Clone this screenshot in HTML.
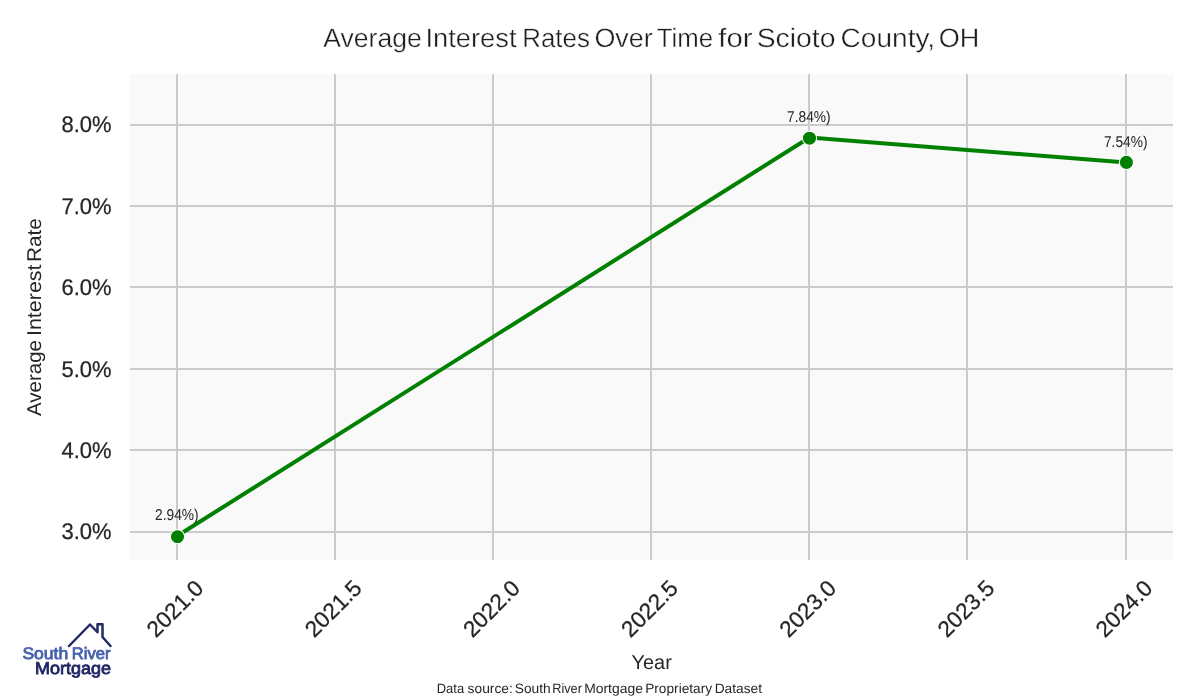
<!DOCTYPE html>
<html><head><meta charset="utf-8"><title>Average Interest Rates Over Time for Scioto County, OH</title>
<style>
html,body{margin:0;padding:0;background:#fff;width:1200px;height:700px;overflow:hidden}
svg{display:block}
text{text-rendering:geometricPrecision;font-family:"Liberation Sans",Arial,sans-serif;fill:#262626}
.title{font-size:26.5px;fill:#1e1e1e;stroke:#fff;stroke-width:0.35px}
.tick{font-size:22.7px;stroke:#262626;stroke-width:0.25px}
.xtick{font-size:22.6px;stroke:#262626;stroke-width:0.25px}
.ann{font-size:15.7px}
.lab{font-size:20px}
.src{font-size:13.6px}
.lg1{font-size:16.6px;fill:#4660ad;stroke:#4660ad;stroke-width:0.8px}
.lg2{font-size:17.2px;fill:#1f2562;stroke:#1f2562;stroke-width:0.8px}
</style></head>
<body>
<svg width="1200" height="700" viewBox="0 0 1200 700">
<rect x="130" y="74" width="1043" height="486" fill="#f9f9f9"/>
<rect x="130" y="124" width="1043" height="2" fill="#cbcbcb"/>
<rect x="130" y="205" width="1043" height="2" fill="#cbcbcb"/>
<rect x="130" y="286" width="1043" height="2" fill="#cbcbcb"/>
<rect x="130" y="368" width="1043" height="2" fill="#cbcbcb"/>
<rect x="130" y="449" width="1043" height="2" fill="#cbcbcb"/>
<rect x="130" y="531" width="1043" height="2" fill="#cbcbcb"/>
<rect x="176" y="74" width="2" height="486" fill="#cbcbcb"/>
<rect x="334" y="74" width="2" height="486" fill="#cbcbcb"/>
<rect x="492" y="74" width="2" height="486" fill="#cbcbcb"/>
<rect x="650" y="74" width="2" height="486" fill="#cbcbcb"/>
<rect x="808" y="74" width="2" height="486" fill="#cbcbcb"/>
<rect x="966" y="74" width="2" height="486" fill="#cbcbcb"/>
<rect x="1125" y="74" width="2" height="486" fill="#cbcbcb"/>
<polyline points="177.50,535.80 809.50,137.50 1126.40,162.40" fill="none" stroke="#008000" stroke-width="4" stroke-linejoin="round" stroke-linecap="butt"/>
<circle cx="177.50" cy="536.70" r="7.1" fill="#008000" stroke="#ffffff" stroke-width="1.1"/>
<circle cx="809.50" cy="138.20" r="7.1" fill="#008000" stroke="#ffffff" stroke-width="1.1"/>
<circle cx="1126.40" cy="162.40" r="7.1" fill="#008000" stroke="#ffffff" stroke-width="1.1"/>
<text transform="translate(176.80,520.10) scale(0.876,1)" class="ann" text-anchor="middle">2.94%)</text>
<text transform="translate(808.80,121.80) scale(0.876,1)" class="ann" text-anchor="middle">7.84%)</text>
<text transform="translate(1125.70,147.10) scale(0.876,1)" class="ann" text-anchor="middle">7.54%)</text>
<text transform="translate(111.6,539.40) scale(0.969,1)" class="tick" text-anchor="end">3.0%</text>
<text transform="translate(111.6,458.00) scale(0.969,1)" class="tick" text-anchor="end">4.0%</text>
<text transform="translate(111.6,376.60) scale(0.969,1)" class="tick" text-anchor="end">5.0%</text>
<text transform="translate(111.6,295.20) scale(0.969,1)" class="tick" text-anchor="end">6.0%</text>
<text transform="translate(111.6,213.80) scale(0.969,1)" class="tick" text-anchor="end">7.0%</text>
<text transform="translate(111.6,132.40) scale(0.969,1)" class="tick" text-anchor="end">8.0%</text>
<text transform="translate(174.60,608.10) rotate(-45)" x="0" y="8.3" class="xtick" text-anchor="middle">2021.0</text>
<text transform="translate(332.77,608.10) rotate(-45)" x="0" y="8.3" class="xtick" text-anchor="middle">2021.5</text>
<text transform="translate(490.95,608.10) rotate(-45)" x="0" y="8.3" class="xtick" text-anchor="middle">2022.0</text>
<text transform="translate(649.12,608.10) rotate(-45)" x="0" y="8.3" class="xtick" text-anchor="middle">2022.5</text>
<text transform="translate(807.30,608.10) rotate(-45)" x="0" y="8.3" class="xtick" text-anchor="middle">2023.0</text>
<text transform="translate(965.48,608.10) rotate(-45)" x="0" y="8.3" class="xtick" text-anchor="middle">2023.5</text>
<text transform="translate(1123.65,608.10) rotate(-45)" x="0" y="8.3" class="xtick" text-anchor="middle">2024.0</text>
<text y="47" class="title"><tspan x="323.25" textLength="98.63" lengthAdjust="spacingAndGlyphs">Average</tspan> <tspan x="425.48" textLength="91.02" lengthAdjust="spacingAndGlyphs">Interest</tspan> <tspan x="522.28" textLength="67.66" lengthAdjust="spacingAndGlyphs">Rates</tspan> <tspan x="594.43" textLength="58.32" lengthAdjust="spacingAndGlyphs">Over</tspan> <tspan x="656.73" textLength="56.40" lengthAdjust="spacingAndGlyphs">Time</tspan> <tspan x="718.29" textLength="34.20" lengthAdjust="spacingAndGlyphs">for</tspan> <tspan x="756.71" textLength="78.78" lengthAdjust="spacingAndGlyphs">Scioto</tspan> <tspan x="840.61" textLength="94.56" lengthAdjust="spacingAndGlyphs">County,</tspan> <tspan x="938.72" textLength="40.59" lengthAdjust="spacingAndGlyphs">OH</tspan></text>
<text transform="translate(40.5,0) rotate(-90)" y="0" class="lab"><tspan x="-415.94" textLength="75.95" lengthAdjust="spacingAndGlyphs">Average</tspan> <tspan x="-336.08" textLength="71.64" lengthAdjust="spacingAndGlyphs">Interest</tspan> <tspan x="-262.00" textLength="43.82" lengthAdjust="spacingAndGlyphs">Rate</tspan></text>
<text x="631.58" y="668.9" class="lab" textLength="40.23" lengthAdjust="spacingAndGlyphs">Year</text>
<text y="692.75" class="src"><tspan x="436.74" textLength="27.36" lengthAdjust="spacingAndGlyphs">Data</tspan> <tspan x="467.62" textLength="45.24" lengthAdjust="spacingAndGlyphs">source:</tspan> <tspan x="514.78" textLength="35.92" lengthAdjust="spacingAndGlyphs">South</tspan> <tspan x="552.26" textLength="29.65" lengthAdjust="spacingAndGlyphs">River</tspan> <tspan x="584.16" textLength="58.76" lengthAdjust="spacingAndGlyphs">Mortgage</tspan> <tspan x="645.18" textLength="66.95" lengthAdjust="spacingAndGlyphs">Proprietary</tspan> <tspan x="714.67" textLength="47.33" lengthAdjust="spacingAndGlyphs">Dataset</tspan></text>
<polyline points="69,646 90,624.5 97.5,632.25 97.5,624.25 102.5,624.25 102.5,637 110.5,646" fill="none" stroke="#222a68" stroke-width="2.5" stroke-linejoin="round" stroke-linecap="round"/>
<text y="658.5" class="lg1"><tspan x="22.40" textLength="45.84" lengthAdjust="spacingAndGlyphs">South</tspan> <tspan x="71.84" textLength="38.74" lengthAdjust="spacingAndGlyphs">River</tspan></text>
<text x="35.12" y="674.0" class="lg2" textLength="75.97" lengthAdjust="spacingAndGlyphs">Mortgage</text>
</svg>
</body></html>
